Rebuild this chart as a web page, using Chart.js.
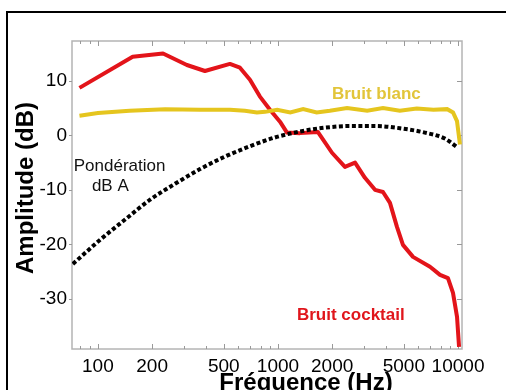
<!DOCTYPE html>
<html>
<head>
<meta charset="utf-8">
<script src="https://cdn.jsdelivr.net/npm/chart.js@4/dist/chart.umd.min.js"></script>
<style>
  body { margin: 0; background: #fff; }
  #wrap { position: relative; width: 506px; height: 390px; overflow: hidden; }
  #cadre { position: absolute; left: 6px; top: 11px; width: 540px; height: 420px; border: 2px solid #000; }
  #graphe { position: absolute; left: 0; top: 0; }
</style>
</head>
<body>
<div id="wrap">
  <div id="cadre"></div>
  <canvas id="graphe" width="506" height="390"></canvas>
</div>
<script>
// valeurs
const etiquettesX = [100, 200, 500, 1000, 2000, 5000, 10000];
const graduationsX = [80, 90, 100, 200, 300, 400, 500, 600, 700, 800, 900, 1000,
  2000, 3000, 4000, 5000, 6000, 7000, 8000, 9000, 10000];
const etiquettesY = [-30, -20, -10, 0, 10];

const freqCocktail = [79, 156, 230, 312, 393, 541, 615, 699, 794, 903, 1026, 1122, 1324, 1668,
  1995, 2355, 2679, 3041, 3459, 3830, 4188, 4580, 4944, 5623, 6986, 7943, 8790, 9376, 9872, 10130];
const dbCocktail = [8.7, 14.4, 15.0, 12.9, 11.8, 13.1, 12.4, 10.2, 7.1, 4.7, 2.5, 0.5, 0.4, 0.6,
  -3.2, -5.8, -5.0, -7.8, -10.0, -10.4, -12.4, -16.8, -20.1, -22.3, -24.1, -25.6, -26.2, -28.9, -33.3, -38.8];

const freqBlanc = [79, 100, 150, 236, 369, 541, 655, 764, 848, 990, 1170, 1380, 1640, 1941,
  2420, 3130, 3830, 4750, 5900, 7300, 8700, 9380, 9870, 10250];
const dbBlanc = [3.6, 4.1, 4.5, 4.8, 4.7, 4.7, 4.5, 4.2, 4.3, 4.7, 4.2, 4.8, 4.2, 4.5,
  5.0, 4.5, 5.0, 4.5, 4.9, 4.7, 4.8, 4.2, 2.6, -1.7];

const freqPonderation = [72.6, 102.6, 141, 195, 268, 369, 508, 699, 962, 1324, 1822, 2510,
  3456, 4754, 6540, 8450, 10000];
const dbPonderation = [-23.6, -19.2, -15.5, -11.8, -8.9, -6.2, -3.9, -2.0, -0.4, 0.7, 1.4, 1.7,
  1.7, 1.3, 0.5, -0.6, -2.3];

const points = (xs, ys) => xs.map((f, i) => ({ x: f, y: ys[i] }));

const police = '"Liberation Sans", Arial, sans-serif';

const habillage = {
  id: 'habillage',
  beforeDatasetsDraw(chart) {
    const { ctx, chartArea: { left, right, top, bottom }, scales: { x, y } } = chart;
    ctx.save();
    ctx.strokeStyle = '#b4b4b4';
    ctx.lineWidth = 1.5;
    ctx.strokeRect(left, top, right - left, bottom - top);
    ctx.lineWidth = 1;
    ctx.strokeStyle = '#999';
    graduationsX.forEach(v => {
      const px = Math.round(x.getPixelForValue(v)) + 0.5;
      const l = etiquettesX.includes(v) ? 5 : 3;
      ctx.beginPath();
      ctx.moveTo(px, bottom); ctx.lineTo(px, bottom - l);
      ctx.moveTo(px, top); ctx.lineTo(px, top + l);
      ctx.stroke();
    });
    etiquettesY.forEach(v => {
      const py = Math.round(y.getPixelForValue(v)) + 0.5;
      ctx.beginPath();
      ctx.moveTo(left - 3, py); ctx.lineTo(left, py);
      ctx.moveTo(right, py); ctx.lineTo(right - 5, py);
      ctx.stroke();
    });
    ctx.restore();
  },
  afterDatasetsDraw(chart) {
    const { ctx, scales: { x, y } } = chart;
    ctx.save();
    ctx.textBaseline = 'middle';
    ctx.textAlign = 'left';
    ctx.font = 'bold 17px ' + police;
    ctx.fillStyle = '#e2c53a';
    ctx.fillText('Bruit blanc', x.getPixelForValue(1995), y.getPixelForValue(7.6));
    ctx.fillStyle = '#e0161c';
    ctx.fillText('Bruit cocktail', x.getPixelForValue(1275), y.getPixelForValue(-33.1));
    ctx.font = '17px ' + police;
    ctx.fillStyle = '#111';
    ctx.fillText('Pondération', x.getPixelForValue(73.4), y.getPixelForValue(-5.6));
    ctx.fillText('dB A', x.getPixelForValue(92.6), y.getPixelForValue(-9.3));

    // titres des axes
    ctx.fillStyle = '#000';
    ctx.font = 'bold 24px ' + police;
    ctx.textAlign = 'center';
    ctx.textBaseline = 'alphabetic';
    ctx.fillText('Fréquence (Hz)', 306, 390);
    ctx.translate(33, 188);
    ctx.rotate(-Math.PI / 2);
    ctx.fillText('Amplitude (dB)', 0, 0);
    ctx.restore();
  }
};

new Chart(document.getElementById('graphe'), {
  type: 'line',
  data: {
    datasets: [
      {
        label: 'Bruit blanc',
        data: points(freqBlanc, dbBlanc),
        borderColor: '#e5c51e',
        borderWidth: 4,
        pointRadius: 0,
        tension: 0
      },
      {
        label: 'Pondération dB A',
        data: points(freqPonderation, dbPonderation),
        borderColor: '#000',
        borderWidth: 4,
        borderDash: [4, 2.5],
        borderCapStyle: 'butt',
        pointRadius: 0,
        cubicInterpolationMode: 'monotone'
      },
      {
        label: 'Bruit cocktail',
        data: points(freqCocktail, dbCocktail),
        borderColor: '#e3141a',
        borderWidth: 4,
        borderJoinStyle: 'round',
        pointRadius: 0,
        tension: 0
      }
    ]
  },
  options: {
    responsive: false,
    animation: false,
    layout: { padding: { top: 41, right: 44, left: 0, bottom: 0 } },
    plugins: { legend: { display: false }, tooltip: { enabled: false } },
    scales: {
      x: {
        type: 'logarithmic',
        min: 71.8,
        max: 10520,
        afterBuildTicks: s => { s.ticks = etiquettesX.map(v => ({ value: v })); },
        afterFit: s => { s.height = 41; },
        grid: { display: false, drawTicks: false },
        border: { display: false },
        ticks: {
          autoSkip: false,
          maxRotation: 0,
          padding: 6,
          color: '#000',
          font: { family: police, size: 19 },
          callback: v => String(v)
        }
      },
      y: {
        min: -39.2,
        max: 17.3,
        afterBuildTicks: s => { s.ticks = etiquettesY.map(v => ({ value: v })); },
        afterFit: s => { s.width = 72; },
        grid: { display: false, drawTicks: false },
        border: { display: false },
        ticks: {
          padding: 5,
          color: '#000',
          font: { family: police, size: 19 }
        }
      }
    }
  },
  plugins: [habillage]
});
</script>
</body>
</html>
